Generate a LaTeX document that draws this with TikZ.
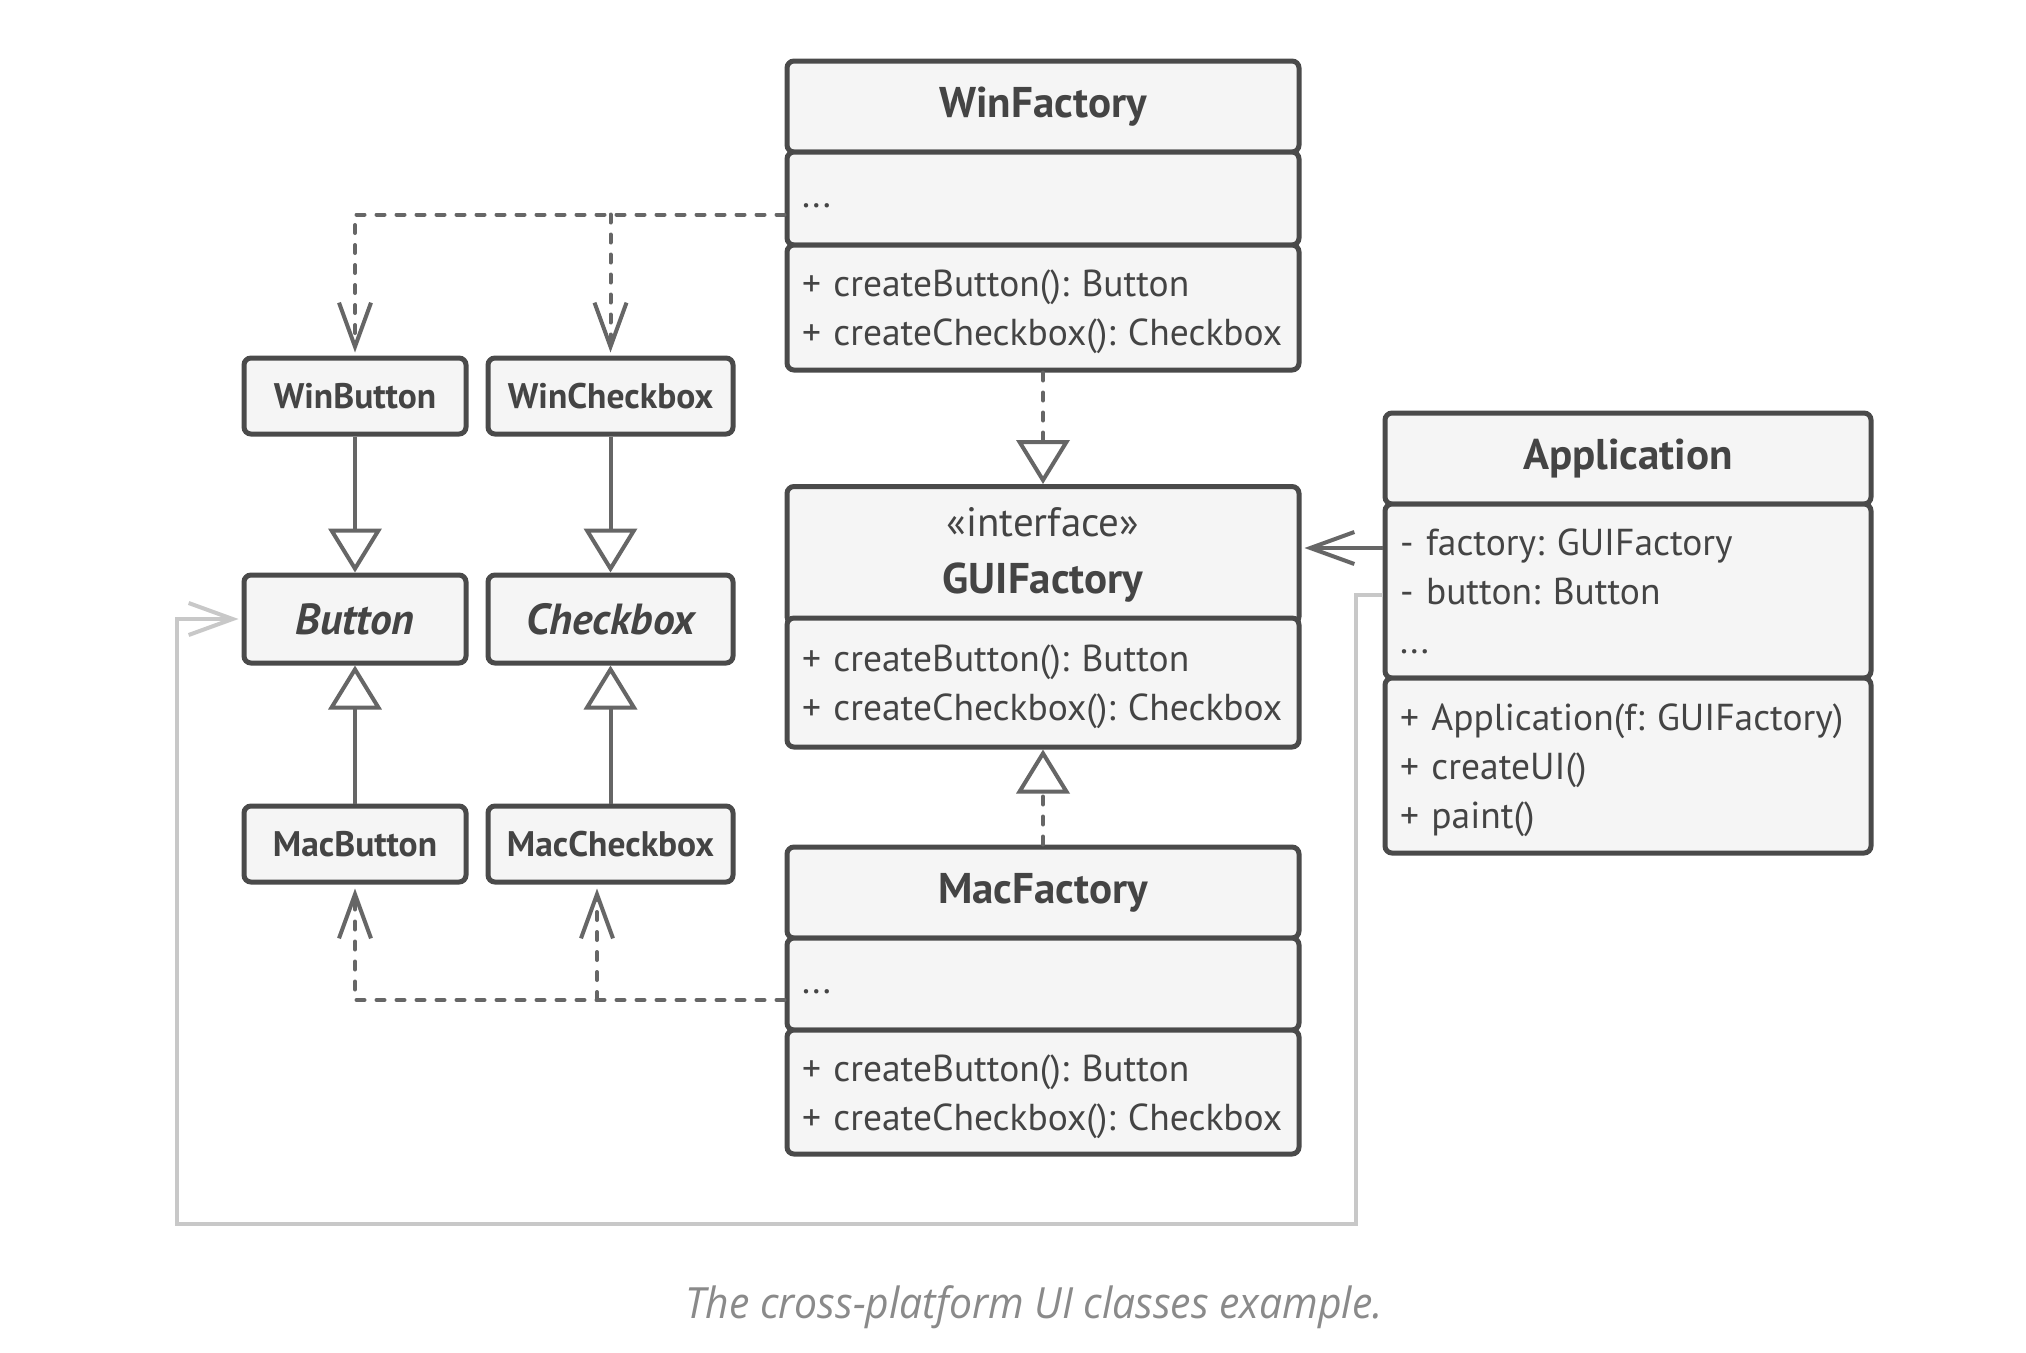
\documentclass[tikz,border=0pt]{standalone}
\usepackage{fontspec}
\setmainfont{PT Sans}
\newfontfamily\capfont[FakeStretch=0.95]{Open Sans}
\usetikzlibrary{arrows.meta}
\newcommand\topstrut{\rule{0pt}{36pt}}
\definecolor{bordc}{HTML}{4A4A4A}
\definecolor{linec}{HTML}{666666}
\definecolor{fillc}{HTML}{F5F5F5}
\definecolor{txtc}{HTML}{444444}
\definecolor{grayc}{HTML}{C8C8C8}
\definecolor{capc}{HTML}{8A8A8A}
\tikzset{
  comp/.style={draw=bordc, line width=5pt, fill=fillc, rounded corners=7pt, inner sep=0pt, text=txtc},
  hdr/.style={comp, font=\fontsize{43}{50}\selectfont\bfseries, align=center},
  bodyc/.style={comp, font=\fontsize{37.5}{49}\selectfont, align=left, inner xsep=15pt},
  smallbox/.style={comp, font=\fontsize{35.5}{40}\selectfont\bfseries, minimum height=76pt},
  absbox/.style={comp, font=\fontsize{43.5}{48}\selectfont\bfseries\itshape, minimum height=88pt},
  connline/.style={draw=linec, line width=4pt},
  depline/.style={connline, dash pattern=on 8pt off 12pt, line cap=round},
  grayline/.style={draw=grayc, line width=4pt},
  vtip/.tip={Straight Barb[length=44pt, width=32pt]},
  ttip/.tip={Triangle[open, length=44pt, width=53pt, fill=white]},
}
\begin{document}
\frenchspacing
\begin{tikzpicture}[x=1pt,y=-1pt]
\useasboundingbox[fill=white] (0,0) rectangle (2026,1352);

% WinFactory
\node[hdr, minimum width=512pt, minimum height=91pt] (wfT) at (1043,106.5) {WinFactory};
\node[bodyc, minimum width=512pt, text width=482pt, minimum height=93pt] (wfA) at (1043,198.5) {\vphantom{(y}...};
\node[bodyc, minimum width=512pt, text width=482pt, minimum height=125pt] (wfM) at (1043,307.5) {\topstrut+ createButton(): Button\\+ createCheckbox(): Checkbox};

% GUIFactory
\node[hdr, minimum width=512pt, minimum height=137pt, font=\fontsize{43}{57}\selectfont\bfseries] (gfT) at (1043,555) {{\mdseries\fontsize{41}{57}\selectfont «interface»}\\GUIFactory};
\node[bodyc, minimum width=512pt, text width=482pt, minimum height=129pt] (gfM) at (1043,682.5) {\topstrut+ createButton(): Button\\+ createCheckbox(): Checkbox};

% MacFactory
\node[hdr, minimum width=512pt, minimum height=91pt] (mfT) at (1043,892.5) {MacFactory};
\node[bodyc, minimum width=512pt, text width=482pt, minimum height=92pt] (mfA) at (1043,984) {\vphantom{(y}...};
\node[bodyc, minimum width=512pt, text width=482pt, minimum height=124pt] (mfM) at (1043,1092) {\topstrut+ createButton(): Button\\+ createCheckbox(): Checkbox};

% Application
\node[hdr, minimum width=486pt, minimum height=91pt] (apT) at (1628,458.5) {Application};
\node[bodyc, minimum width=486pt, text width=456pt, minimum height=174pt] (apA) at (1628,591) {- factory: GUIFactory\\- button: Button\\...};
\node[bodyc, minimum width=486pt, text width=456pt, minimum height=175pt] (apM) at (1628,765.5) {\topstrut+ Application(f: GUIFactory)\\+ createUI()\\+ paint()};

% products
\node[smallbox, minimum width=222pt] (wb) at (355,396) {WinButton};
\node[smallbox, minimum width=245pt] (wc) at (610.5,396) {WinCheckbox};
\node[absbox, minimum width=222pt] (bt) at (355,619) {Button};
\node[absbox, minimum width=245pt] (cb) at (610.5,619) {Checkbox};
\node[smallbox, minimum width=222pt] (mb) at (355,844) {MacButton};
\node[smallbox, minimum width=245pt] (mc) at (610.5,844) {MacCheckbox};

% inheritance
\draw[connline,-ttip] (wb) -- (bt);
\draw[connline,-ttip] (wc) -- (cb);
\draw[connline,-ttip] (mb) -- (bt);
\draw[connline,-ttip] (mc) -- (cb);

% factories realize interface
\draw[depline,-ttip] (wfM) -- (gfT);
\draw[depline,-ttip] (mfT) -- (gfM);

% dependencies Win
\coordinate (wfd) at ([yshift=-16pt]wfA.west);
\draw[depline,-vtip,shorten >=3pt] (wfd) -| (wb.north);
\draw[depline,-vtip,shorten >=3pt] (wfd -| wc.north) -- (wc.north);

% dependencies Mac
\coordinate (mfd) at ([yshift=-16pt]mfA.west);
\coordinate (mcx) at ([xshift=-13.5pt]mc.south);
\draw[depline,-vtip,shorten >=4pt] (mfd) -| (mb.south);
\draw[depline,-vtip,shorten >=4pt] (mfd -| mcx) -- (mcx);

% application association
\coordinate (apf) at ([yshift=43pt]apA.west);
\draw[connline,-vtip,shorten >=3pt] (apf) -- (apf -| gfT.east);

% application to Button
\coordinate (apb) at ([yshift=-4pt]apA.west);
\coordinate (g1) at (1356,1224);
\coordinate (g2) at (177,1224);
\draw[grayline,-vtip,shorten >=3pt] (apb) -| (g1) -- (g2) |- (bt.west);

% caption
\node[font=\capfont\itshape\fontsize{43}{52}\selectfont, text=capc] (cap) at (1034,1307) {The cross-platform UI classes example.};
\end{tikzpicture}
\end{document}
